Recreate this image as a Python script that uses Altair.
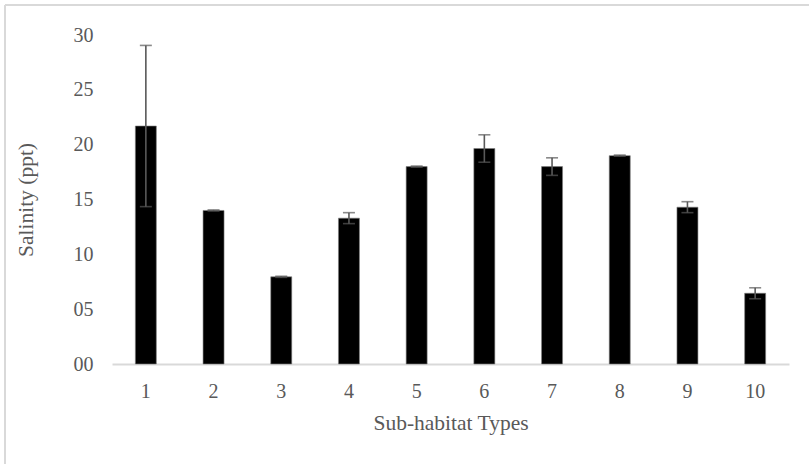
import altair as alt
import pandas as pd

# Mean salinity per sub-habitat type, with its error (±)
habitats = [1, 2, 3, 4, 5, 6, 7, 8, 9, 10]
salinity = [21.7, 14.0, 7.95, 13.3, 18.0, 19.65, 18.0, 19.0, 14.3, 6.45]
error = [7.35, 0.05, 0.05, 0.5, 0.05, 1.25, 0.8, 0.05, 0.5, 0.5]

df = pd.DataFrame({"habitat": habitats, "salinity": salinity, "err": error})
df["lo"] = df["salinity"] - df["err"]
df["hi"] = df["salinity"] + df["err"]

FONT = "Liberation Serif"
GREY_TXT = "#595959"
GREY_LINE = "#d9d9d9"

x_enc = alt.X(
    "habitat:O",
    title="Sub-habitat Types",
    scale=alt.Scale(paddingInner=0.69, paddingOuter=0.345),
    axis=alt.Axis(
        labelAngle=0,
        labelFont=FONT, labelFontSize=20, labelColor=GREY_TXT, labelPadding=17,
        titleFont=FONT, titleFontSize=21.5, titleColor=GREY_TXT, titleFontWeight="normal",
        titlePadding=11,
        ticks=False, domainColor=GREY_LINE, domainWidth=2, grid=False,
    ),
)

y_scale = alt.Scale(domain=[0, 30], nice=False)

bars = alt.Chart(df).mark_bar(color="black", stroke="#7f7f7f", strokeWidth=0.6).encode(
    x=x_enc,
    y=alt.Y(
        "salinity:Q",
        scale=y_scale,
        title="Salinity (ppt)",
        axis=alt.Axis(
            values=[0, 5, 10, 15, 20, 25, 30],
            labelExpr="datum.value < 10 ? '0' + datum.value : '' + datum.value",
            labelFont=FONT, labelFontSize=20, labelColor=GREY_TXT, labelPadding=19,
            titleFont=FONT, titleFontSize=21.5, titleColor=GREY_TXT, titleFontWeight="normal",
            titlePadding=36,
            ticks=False, domain=False, grid=False,
        ),
    ),
)

err_color = "#595959"
rules = alt.Chart(df).mark_rule(color=err_color, strokeWidth=1.6).encode(
    x="habitat:O", y=alt.Y("lo:Q", scale=y_scale), y2="hi:Q"
)
caps_hi = alt.Chart(df).mark_tick(color=err_color, size=12, thickness=1.6, orient="horizontal").encode(
    x="habitat:O", y=alt.Y("hi:Q", scale=y_scale)
)
caps_lo = alt.Chart(df).mark_tick(color=err_color, size=12, thickness=1.6, orient="horizontal").encode(
    x="habitat:O", y=alt.Y("lo:Q", scale=y_scale)
)

# Light frame edges along the top and left of the figure
frame_top = alt.Chart(pd.DataFrame({"k": [0]})).mark_rule(color=GREY_LINE, strokeWidth=2).encode(
    x=alt.value(-107), x2=alt.value(720), y=alt.value(-30)
)
frame_left = alt.Chart(pd.DataFrame({"k": [0]})).mark_rule(color=GREY_LINE, strokeWidth=2).encode(
    x=alt.value(-107), y=alt.value(-30), y2=alt.value(450)
)

chart = alt.layer(frame_top, frame_left, bars, rules, caps_hi, caps_lo).properties(
    width=677, height=329,
    autosize=alt.AutoSizeParams(type="none"),
    padding={"left": 112, "top": 35, "right": 20, "bottom": 100},
    background="white",
).configure_view(stroke=None)

chart.save("out.html", embed_options={"renderer": "svg", "actions": False})
